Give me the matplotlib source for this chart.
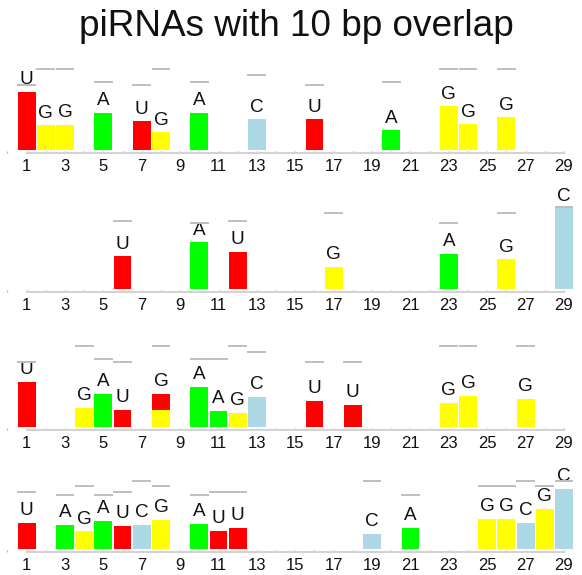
import matplotlib
matplotlib.use("Agg")
import matplotlib.pyplot as plt
from matplotlib.ticker import MultipleLocator

plt.rcParams['font.family'] = ['Liberation Sans', 'DejaVu Sans']

# colour per nucleotide
base_colors = {'A': '#00ff00', 'C': '#add8e6', 'G': '#ffff00', 'U': '#ff0000'}

# grey reference level of each base (rows 1/3 and rows 2/4)
ref_odd = {'U': 0.80, 'A': 0.84, 'C': 0.92, 'G': 1.0}
ref_even = {'U': 0.836, 'A': 0.805, 'G': 0.928, 'C': 1.0}

p1_pos = [1, 2, 3, 5, 7, 8, 10, 13, 16, 20, 23, 24, 26]
p1_base = ['U', 'G', 'G', 'A', 'U', 'G', 'A', 'C', 'U', 'A', 'G', 'G', 'G']
p1_freq = [0.72, 0.30, 0.31, 0.46, 0.35, 0.22, 0.46, 0.38, 0.38, 0.24, 0.54, 0.32, 0.40]

p2_pos = [6, 10, 12, 17, 23, 26, 29]
p2_base = ['U', 'A', 'U', 'G', 'A', 'G', 'C']
p2_freq = [0.40, 0.57, 0.455, 0.27, 0.43, 0.365, 0.99]

p3_pos = [1, 4, 5, 6, 8, 10, 11, 12, 13, 16, 18, 23, 24, 27]
p3_base = ['U', 'G', 'A', 'U', 'G', 'A', 'A', 'G', 'C', 'U', 'U', 'G', 'G', 'G']
p3_freq = [0.557, 0.238, 0.41, 0.213, 0.213, 0.496, 0.20, 0.176, 0.373,
           0.324, 0.275, 0.30, 0.385, 0.348]
# second base stacked on top of the first one
p3_top_pos = [8]
p3_top_base = ['U']
p3_top_freq = [0.197]

p4_pos = [1, 3, 4, 5, 6, 7, 8, 10, 11, 12, 19, 21, 25, 26, 27, 28, 29]
p4_base = ['U', 'A', 'G', 'A', 'U', 'C', 'G', 'A', 'U', 'U', 'C', 'A', 'G', 'G', 'C', 'G', 'C']
p4_freq = [0.39, 0.36, 0.266, 0.419, 0.345, 0.36, 0.434, 0.375, 0.271, 0.316,
           0.227, 0.316, 0.449, 0.449, 0.39, 0.597, 0.893]

panels = [
    (p1_pos, p1_base, p1_freq, [], [], [], ref_odd),
    (p2_pos, p2_base, p2_freq, [], [], [], ref_even),
    (p3_pos, p3_base, p3_freq, p3_top_pos, p3_top_base, p3_top_freq, ref_odd),
    (p4_pos, p4_base, p4_freq, [], [], [], ref_even),
]

# bar baseline (pixels from top) and pixels per unit for each row
W, H = 582, 575
rows = [(149.7, 80.7), (288.7, 81.3), (427.0, 81.3), (549.0, 67.6)]
ytop = 1.3

fig = plt.figure(figsize=(W / 100, H / 100), dpi=100)
fig.text(296 / W, 1 - 26 / H, 'piRNAs with 10 bp overlap', ha='center', va='center',
         fontsize=26.6, color='#111111')

for (pos, base, freq, tpos, tbase, tfreq, ref), (yb, scale) in zip(panels, rows):
    ax = fig.add_axes([0, (H - yb) / H, 1, ytop * scale / H])
    ax.set_xlim(-0.386, 29.94)
    ax.set_ylim(0, ytop)

    ax.bar(pos, freq, width=0.93, color=[base_colors[b] for b in base], zorder=2)
    totals = dict(zip(pos, freq))
    if tpos:
        ax.bar(tpos, tfreq, width=0.93, bottom=[totals[p] for p in tpos],
               color=[base_colors[b] for b in tbase], zorder=2)
        for p, f in zip(tpos, tfreq):
            totals[p] += f

    for p, b in zip(pos, base):
        ax.annotate(b, (p, totals[p]), xytext=(0, 5.3), textcoords='offset points',
                    ha='center', va='baseline', fontsize=13.6, color='#111111', zorder=3)
        ax.hlines(ref[b], p - 0.49, p + 0.49, color='#bebebe', lw=1.4, zorder=4)

    for side in ['top', 'right', 'left']:
        ax.spines[side].set_visible(False)
    ax.spines['bottom'].set_position(('outward', 2.2))
    ax.spines['bottom'].set_bounds(1, 29)
    ax.spines['bottom'].set_color('#d3d3d3')
    ax.spines['bottom'].set_linewidth(1.5)
    ax.set_yticks([])
    ax.xaxis.set_minor_locator(MultipleLocator(1))
    ax.set_xticks(range(1, 30, 2))
    ax.tick_params(axis='x', which='both', direction='in', length=1.5, width=1,
                   color='#b5b5b5', labelsize=12, labelcolor='#111111', pad=4.6)
    ax.patch.set_alpha(0)

fig.savefig('out.png', dpi=100)
